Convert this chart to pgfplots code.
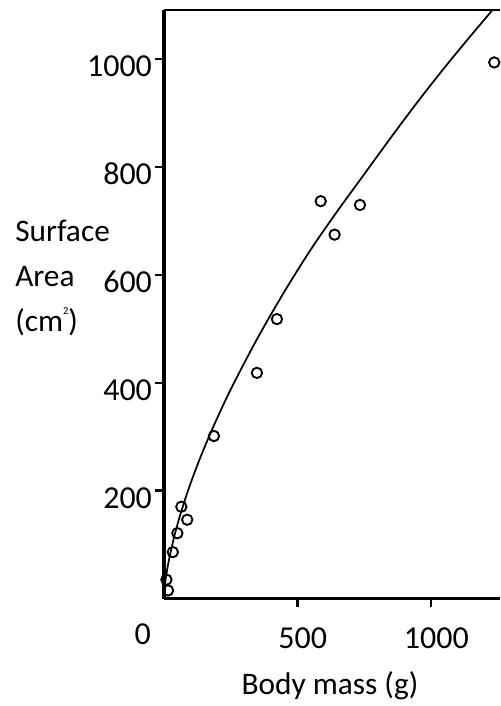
\documentclass[border=0pt]{standalone}
\usepackage{fontspec}
\setmainfont{Carlito}
\usepackage{pgfplots}
\pgfplotsset{compat=1.18}
\begin{document}
\fontsize{23.5}{28}\selectfont
\begin{tikzpicture}
\useasboundingbox (-123pt,-80.6pt) rectangle (252pt,448.9pt);
\begin{axis}[
  at={(0pt,0pt)}, anchor=south west,
  scale only axis, width=252pt, height=441.75pt,
  xmin=0, xmax=1258.5, ymin=0, ymax=1091,
  axis lines=left, axis line style={line width=2.6pt, -},
  tick align=outside, major tick length=6.5pt,
  tick style={line width=1.6pt, black},
  xtick={500,1000}, ytick={200,400,600,800,1000},
  /pgf/number format/assume math mode=true,
  /pgf/number format/1000 sep={},
  ticklabel style={font=\fontsize{24}{28}\selectfont},
  xticklabel style={xshift=4pt, yshift=-7pt},
  yticklabel style={xshift=5.5pt, yshift=-5.5pt},
  extra x ticks={0}, extra x tick labels={0},
  extra x tick style={major tick length=0pt, xticklabel style={xshift=-20pt, yshift=-4pt}},
]
\addplot[black, line width=1.3pt, smooth] coordinates {
(0,0) (5,30.6) (10,48) (20,75) (40,118) (60,153.5) (90,200) (130,253.6)
(180,313) (250,387.5) (350,482) (450,567.7) (550,646.6) (650,718) (750,786)
(850,854) (950,920) (1050,983) (1150,1043) (1250,1101.5)};
\addplot[only marks, mark=o, mark size=3.9pt, mark options={line width=1.4pt, black}] coordinates {
(9,35) (15,15) (33,86) (50,121) (65,170) (87,146) (187,301) (348,418)
(423,517.6) (587,736) (639,674) (734,729) (1237,993)};
\draw[line width=2.6pt] (rel axis cs:0,1) -- (rel axis cs:1,1);
\end{axis}
\node[anchor=base west, inner sep=0pt] at (-111.75pt,267.6pt) {Surface};
\node[anchor=base west, inner sep=0pt] at (-111.75pt,233.9pt) {Area};
\node[anchor=base west, inner sep=0pt] at (-111.75pt,200.1pt) {(cm\raisebox{0.55em}{\fontsize{8}{8}\selectfont 2})};
\node[anchor=base, inner sep=0pt] at (124.5pt,-71.6pt) {Body mass (g)};
\end{tikzpicture}
\end{document}
